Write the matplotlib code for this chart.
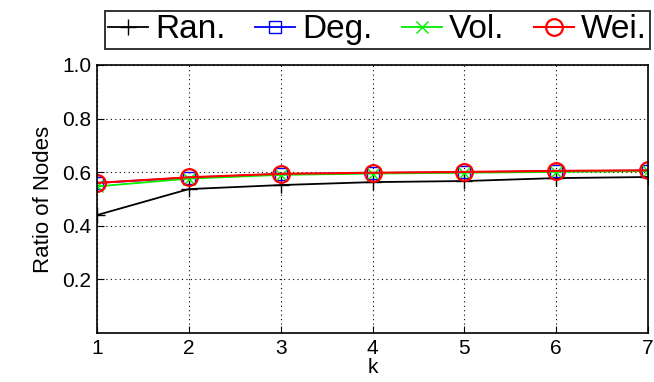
import matplotlib
matplotlib.use("Agg")
import matplotlib.pyplot as plt

plt.rcParams['font.family'] = ['Liberation Sans', 'DejaVu Sans']

# seed-set size k and ratio of activated nodes per strategy
k = [1, 2, 3, 4, 5, 6, 7]
ran = [0.44, 0.537, 0.552, 0.563, 0.567, 0.578, 0.582]
deg = [0.56, 0.58, 0.593, 0.597, 0.600, 0.604, 0.606]
vol = [0.547, 0.576, 0.590, 0.595, 0.598, 0.601, 0.604]
wei = [0.56, 0.581, 0.594, 0.598, 0.601, 0.605, 0.607]

fig = plt.figure(figsize=(6.54, 3.82), dpi=100)
ax = fig.add_axes([97 / 654, 49 / 382, 551 / 654, 268 / 382])

ax.plot(k, ran, color="black", marker="+", markersize=11, lw=1.3, label="Ran.")
ax.plot(k, deg, color="blue", marker="s", markersize=9, mfc="none", lw=1.3, label="Deg.")
ax.plot(k, vol, color="#00ee00", marker="x", markersize=9, lw=1.3, label="Vol.")
ax.plot(k, wei, color="red", marker="o", markersize=12, mfc="none", mew=1.6, lw=1.5, label="Wei.")

ax.set_xlim(1, 7)
ax.set_ylim(0, 1.0)
ax.set_xticks(k)
ax.set_yticks([0.2, 0.4, 0.6, 0.8, 1.0])
ax.tick_params(direction="in", labelsize=15, length=5, pad=4)
ax.grid(True, linestyle=(0, (1, 3)), color="black", lw=0.8)
for s in ax.spines.values():
    s.set_linewidth(1.2)

ax.set_xlabel("k", fontsize=15, labelpad=0)
ax.set_ylabel("Ratio of Nodes", fontsize=16, labelpad=6)

leg = fig.legend(loc="upper left", bbox_to_anchor=(105 / 654, 1 - 11 / 382),
                 ncol=4, fontsize=24, frameon=True, fancybox=False,
                 edgecolor="black", handlelength=1.2, handletextpad=0.2,
                 columnspacing=0.9, borderpad=0.1, borderaxespad=0)
leg.get_frame().set_linewidth(1.4)

fig.savefig("out.png", dpi=100)
